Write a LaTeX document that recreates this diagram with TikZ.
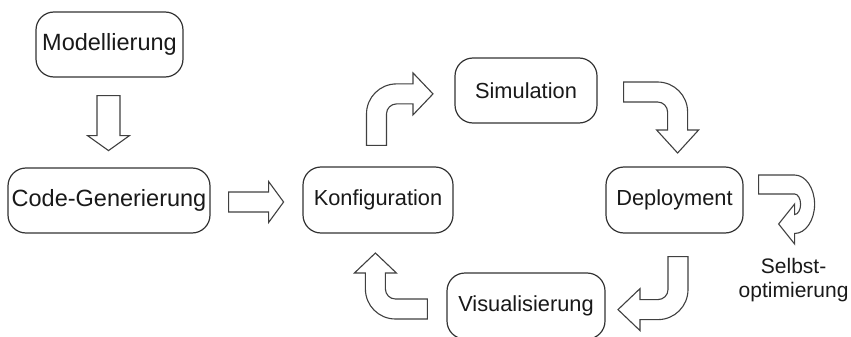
\documentclass[tikz,border=0pt]{standalone}
\usepackage{fontspec}
\setmainfont{Liberation Sans}
\usetikzlibrary{calc}

\tikzset{
  stage/.style={draw=black!80, line width=1.2pt, rounded corners=18pt,
    fill=white, text=black!90, align=center, inner sep=2pt,
    font=\fontsize{21.8}{26}\selectfont},
  bigstage/.style={stage, font=\fontsize{23.5}{28}\selectfont},
  blockarrow/.style={draw=black!75, line width=1.1pt, fill=white, line join=miter},
  looplabel/.style={align=center, text=black!90, font=\fontsize{21}{24}\selectfont}
}

\begin{document}
\begin{tikzpicture}[x=1pt, y=-1pt]
\useasboundingbox (0,0) rectangle (851,337);
\clip (0,0) rectangle (851,337);

% process stages
\node[bigstage, minimum width=147pt, minimum height=65pt] (mod)  at (109.5,44.5) {Modellierung};
\node[bigstage, minimum width=202pt, minimum height=65pt] (code) at (109,200.5)  {Code-Generierung};
\node[stage, minimum width=150pt, minimum height=66pt]    (konf) at (378,200)    {Konfiguration};
\node[stage, minimum width=142pt, minimum height=65pt]    (sim)  at (526,90.5)   {Simulation};
\node[stage, minimum width=137pt, minimum height=66pt]    (dep)  at (674.5,200)  {Deployment};
\node[stage, minimum width=158pt, minimum height=66pt]    (vis)  at (526,306)    {Visualisierung};

% anchor points of the block arrows
\coordinate (a1) at ($(mod.south)+(-1,18)$);
\coordinate (a2) at ($(code.east)+(18,1.5)$);
\coordinate (a3) at ($(konf.north)+(-11.5,-21)$);
\coordinate (a4) at ($(sim.east)+(26,1.5)$);
\coordinate (a5) at ($(dep.south)+(3.5,23)$);
\coordinate (a6) at ($(vis.west)+(-19,3)$);
\coordinate (a7) at (dep.east);

% Modellierung -> Code-Generierung
\begin{scope}[shift={(a1)}]
\draw[blockarrow] (-11.5,0) -- (11.5,0) -- (11.5,40) -- (21,40) -- (0,55)
  -- (-21,40) -- (-11.5,40) -- cycle;
\end{scope}

% Code-Generierung -> Konfiguration
\begin{scope}[shift={(a2)}]
\draw[blockarrow] (0,-10) -- (40,-10) -- (40,-20.5) -- (55,0) -- (40,20.5)
  -- (40,10) -- (0,10) -- cycle;
\end{scope}

% Konfiguration -> Simulation (bent up and right)
\begin{scope}[shift={(a3)}]
\draw[blockarrow] (0,0) -- (0,-31.5) .. controls (0,-48.1) and (13.4,-61.5) .. (30,-61.5)
  -- (46.5,-61.5) -- (46.5,-72.5) -- (66.5,-51.5) -- (46.5,-30.5) -- (46.5,-41.5)
  -- (30,-41.5) .. controls (24.5,-41.5) and (20,-37) .. (20,-31.5) -- (20,0) -- cycle;
\end{scope}

% Simulation -> Deployment (bent right and down)
\begin{scope}[shift={(a4)}]
\draw[blockarrow] (0,-10) -- (34,-10) .. controls (50.6,-10) and (64,3.4) .. (64,20)
  -- (64,38) -- (75,38) -- (54,61) -- (33,38) -- (44,38) -- (44,20)
  .. controls (44,14.5) and (39.5,10) .. (34,10) -- (0,10) -- cycle;
\end{scope}

% Deployment -> Visualisierung (bent down and left)
\begin{scope}[shift={(a5)}]
\draw[blockarrow] (-10,0) -- (10,0) -- (10,33) .. controls (10,49.6) and (-3.4,63) .. (-20,63)
  -- (-38,63) -- (-38,74) -- (-60,53) -- (-38,32) -- (-38,43) -- (-20,43)
  .. controls (-14.5,43) and (-10,38.5) .. (-10,33) -- cycle;
\end{scope}

% Visualisierung -> Konfiguration (bent left and up)
\begin{scope}[shift={(a6)}]
\draw[blockarrow] (0,-10) -- (-32,-10) .. controls (-37.5,-10) and (-42,-14.5) .. (-42,-20)
  -- (-42,-36) -- (-31,-36) -- (-52,-56) -- (-73,-36) -- (-62,-36) -- (-62,-20)
  .. controls (-62,-3.4) and (-48.6,10) .. (-32,10) -- (0,10) -- cycle;
\end{scope}

% Deployment self loop
\begin{scope}[shift={(a7)}]
\draw[blockarrow] (15,-25) -- (51,-25) .. controls (62,-25) and (71,-11.9) .. (71,4.25)
  .. controls (71,20.4) and (62,33.5) .. (51,33.5) -- (51,44) -- (35,24) -- (51,4)
  -- (51,14.5) .. controls (54.3,14.5) and (57,9.9) .. (57,4.25)
  .. controls (57,-1.4) and (54.3,-6) .. (51,-6) -- (15,-6) -- cycle;
\end{scope}
\node[looplabel, anchor=north] (selbst) at ($(dep.east)+(50,55)$) {Selbst-\\optimierung};

\end{tikzpicture}
\end{document}
